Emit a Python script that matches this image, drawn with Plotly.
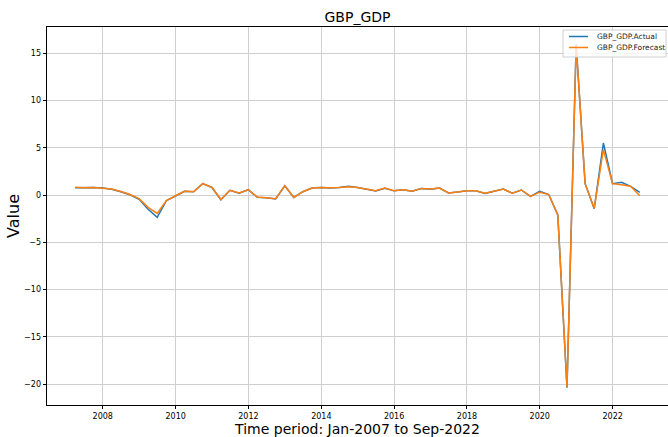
import pandas as pd
import plotly.graph_objects as go

# Quarterly GDP growth (%), 2007 Q1 .. 2022 Q3, dated at quarter end
quarters = pd.date_range("2007-03-31", "2022-09-30", freq="QE").strftime("%Y-%m-%d").tolist()

actual = [
    0.77, 0.78, 0.80, 0.73, 0.62, 0.35, 0.03, -0.45, -1.50, -2.36,
    -0.60, -0.10, 0.40, 0.35, 1.20, 0.80, -0.50, 0.50, 0.20, 0.56,
    -0.25, -0.30, -0.42, 0.98, -0.25, 0.35, 0.74, 0.80, 0.74, 0.80,
    0.92, 0.80, 0.60, 0.43, 0.72, 0.44, 0.56, 0.40, 0.68, 0.60,
    0.74, 0.22, 0.33, 0.45, 0.46, 0.17, 0.40, 0.63, 0.20, 0.53,
    -0.15, 0.40, 0.05, -2.10, -20.40, 15.96, 1.20, -1.45, 5.50, 1.20,
    1.34, 0.92, 0.28,
]

forecast = [
    0.82, 0.76, 0.80, 0.73, 0.64, 0.38, 0.06, -0.38, -1.30, -1.94,
    -0.58, -0.08, 0.40, 0.35, 1.20, 0.82, -0.48, 0.50, 0.22, 0.56,
    -0.22, -0.30, -0.40, 0.98, -0.25, 0.35, 0.74, 0.80, 0.76, 0.80,
    0.88, 0.80, 0.60, 0.46, 0.74, 0.46, 0.56, 0.40, 0.70, 0.63,
    0.74, 0.22, 0.33, 0.45, 0.46, 0.18, 0.40, 0.63, 0.20, 0.53,
    -0.15, 0.30, 0.05, -2.10, -20.30, 15.80, 1.20, -1.40, 4.80, 1.20,
    1.09, 0.92, -0.07,
]

series_names = ["GBP_GDP.Actual", "GBP_GDP.Forecast"]
series_colors = ["#1f77b4", "#ff7f0e"]

year_ticks = ["2008-01-01", "2010-01-01", "2012-01-01", "2014-01-01",
              "2016-01-01", "2018-01-01", "2020-01-01", "2022-01-01"]
year_labels = ["2008", "2010", "2012", "2014", "2016", "2018", "2020", "2022"]
value_ticks = [-20, -15, -10, -5, 0, 5, 10, 15]

FONT = "DejaVu Sans"
W, H = 668, 437
L, R, T, B = 47, 0, 27, 32
PW, PH = W - L - R, H - T - B


def px_x(px):
    """Pixel column -> paper x."""
    return (px - L) / PW


def px_y(py):
    """Pixel row -> paper y."""
    return (H - B - py) / PH


fig = go.Figure()
for name, color, values in zip(series_names, series_colors, [actual, forecast]):
    fig.add_trace(go.Scatter(x=quarters, y=values, mode="lines", name=name,
                             line=dict(color=color, width=1.5)))

# 5% padding around the data, in the usual matplotlib manner
x0 = pd.Timestamp(quarters[0])
x1 = pd.Timestamp(quarters[-1])
pad = (x1 - x0) * 0.05
lo, hi = min(actual + forecast), max(actual + forecast)
ypad = (hi - lo) * 0.05

# Compact framed legend in the upper-right corner
shapes = [dict(type="rect", xref="paper", yref="paper",
               x0=px_x(563), x1=px_x(666), y0=px_y(57), y1=px_y(30),
               fillcolor="rgba(255,255,255,0.8)", line=dict(color="#d0d0d0", width=1),
               layer="above")]
annotations = []
for k, (name, color) in enumerate(zip(series_names, series_colors)):
    row = 36.5 + 11 * k
    shapes.append(dict(type="line", xref="paper", yref="paper",
                       x0=px_x(569), x1=px_x(588), y0=px_y(row), y1=px_y(row),
                       line=dict(color=color, width=1.5), layer="above"))
    annotations.append(dict(xref="paper", yref="paper", x=px_x(595), y=px_y(row),
                            xanchor="left", yanchor="middle", showarrow=False,
                            text=name, font=dict(size=7.5, family=FONT, color="#222222")))

fig.update_layout(
    width=W, height=H,
    margin=dict(l=L, r=R, t=T, b=B),
    paper_bgcolor="white", plot_bgcolor="white",
    font=dict(family=FONT, color="black"),
    title=dict(text="GBP_GDP", x=(L + W) / 2 / W, xanchor="center",
               y=1 - 17 / H, yanchor="middle", font=dict(size=14)),
    showlegend=False,
    shapes=shapes,
    annotations=annotations,
)

fig.update_xaxes(
    type="date", range=[x0 - pad, x1 + pad],
    tickvals=year_ticks, ticktext=year_labels,
    tickfont=dict(size=8), ticks="outside", ticklen=3.5, tickcolor="black",
    showgrid=True, gridcolor="#cfcfcf", gridwidth=0.8,
    showline=True, linecolor="black", linewidth=0.8, mirror=True,
    zeroline=False,
    title=dict(text="Time period: Jan-2007 to Sep-2022", font=dict(size=14), standoff=5),
)
fig.update_yaxes(
    range=[lo - ypad, hi + ypad],
    tickvals=value_ticks,
    tickfont=dict(size=8), ticks="outside", ticklen=3.5, tickcolor="black",
    showgrid=True, gridcolor="#cfcfcf", gridwidth=0.8,
    showline=True, linecolor="black", linewidth=0.8, mirror=True,
    zeroline=False,
    title=dict(text="Value", font=dict(size=16), standoff=0),
)

fig.write_html("out.html")
